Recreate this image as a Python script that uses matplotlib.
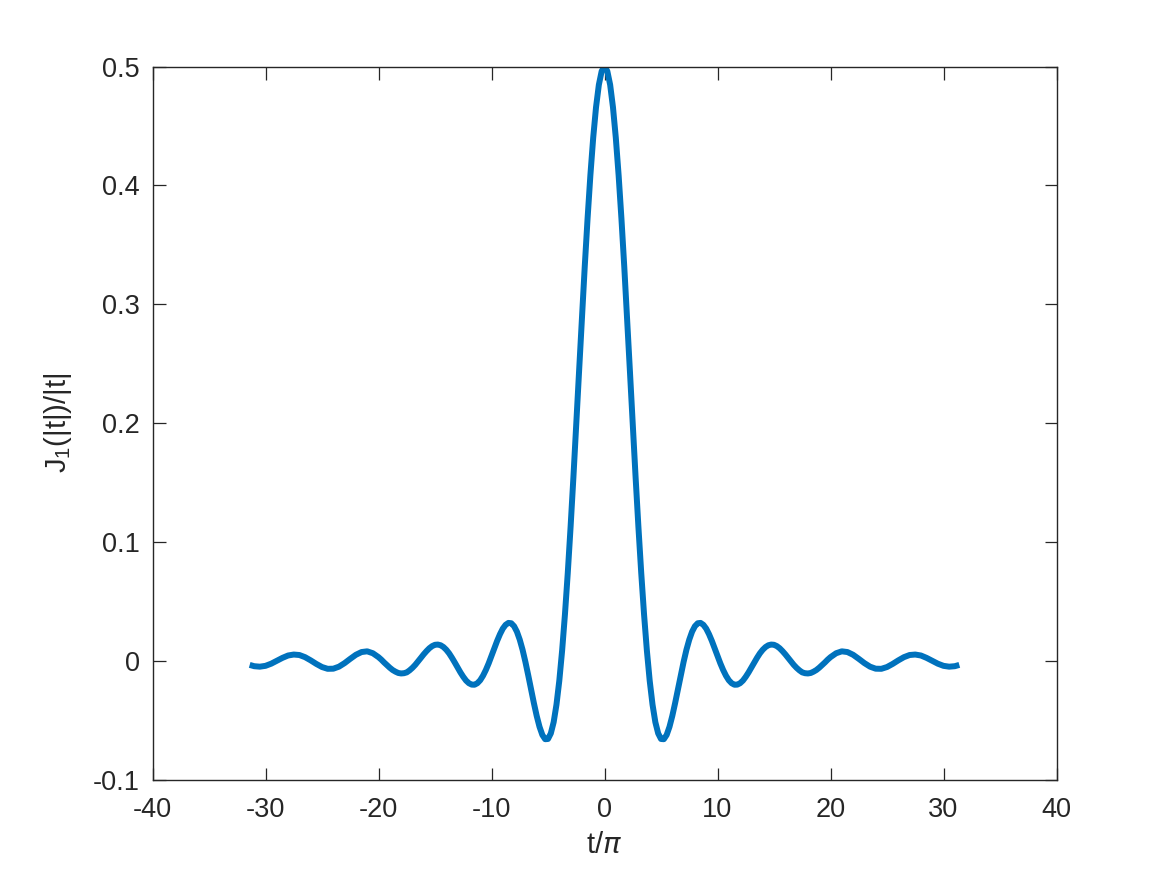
import numpy as np
import matplotlib
matplotlib.use("Agg")
import matplotlib.pyplot as plt

# right half of the curve (t >= 0);
# the curve is symmetric so the left half is the mirror image
t_half = [0.0, 0.25, 0.5, 0.75, 1.0, 1.25, 1.5, 1.75, 2.0, 2.25, 2.5, 2.75,
          3.0, 3.25, 3.5, 3.75, 4.0, 4.25, 4.5, 4.75, 5.0, 5.25, 5.5, 5.75,
          6.0, 6.25, 6.5, 6.75, 7.0, 7.25, 7.5, 7.75, 8.0, 8.25, 8.5, 8.75,
          9.0, 9.25, 9.5, 9.75, 10.0, 10.25, 10.5, 10.75, 11.0, 11.25, 11.5,
          11.75, 12.0, 12.25, 12.5, 12.75, 13.0, 13.25, 13.5, 13.75, 14.0,
          14.25, 14.5, 14.75, 15.0, 15.25, 15.5, 15.75, 16.0, 16.25, 16.5,
          16.75, 17.0, 17.25, 17.5, 17.75, 18.0, 18.25, 18.5, 18.75, 19.0,
          19.25, 19.5, 19.75, 20.0, 20.5, 21.0, 21.5, 22.0, 22.5, 23.0, 23.5,
          24.0, 24.5, 25.0, 25.5, 26.0, 26.5, 27.0, 27.5, 28.0, 28.5, 29.0,
          29.5, 30.0, 30.5, 31.0, 31.4]
y_half = [0.5, 0.4961, 0.4846, 0.4657, 0.4401, 0.4085, 0.3719, 0.3315,
          0.2884, 0.2437, 0.1988, 0.1549, 0.1130, 0.0742, 0.0393, 0.0089,
          -0.0165, -0.0366, -0.0514, -0.0608, -0.0655, -0.0657, -0.0621,
          -0.0553, -0.0461, -0.0353, -0.0237, -0.0119, -0.0007, 0.0095,
          0.0180, 0.0247, 0.0293, 0.0318, 0.0321, 0.0305, 0.0273, 0.0226,
          0.0170, 0.0108, 0.0044, -0.0019, -0.0075, -0.0123, -0.0161,
          -0.0186, -0.0199, -0.0198, -0.0186, -0.0164, -0.0132, -0.0095,
          -0.0054, -0.0012, 0.0028, 0.0065, 0.0095, 0.0118, 0.0133, 0.0139,
          0.0137, 0.0126, 0.0108, 0.0084, 0.0057, 0.0027, -0.0003, -0.0032,
          -0.0057, -0.0078, -0.0095, -0.0102, -0.0104, -0.0100, -0.0089,
          -0.0075, -0.0056, -0.0034, -0.0012, 0.0012, 0.0033, 0.0066, 0.0082,
          0.0076, 0.0053, 0.0019, -0.0017, -0.0047, -0.0064, -0.0065,
          -0.0050, -0.0024, 0.0006, 0.0033, 0.0051, 0.0055, 0.0047, 0.0027,
          0.0002, -0.0022, -0.0040, -0.0047, -0.0043, -0.0032]

x_ticks = [-40, -30, -20, -10, 0, 10, 20, 30, 40]
y_ticks = [-0.1, 0, 0.1, 0.2, 0.3, 0.4, 0.5]
y_ticklabels = ["-0.1", "0", "0.1", "0.2", "0.3", "0.4", "0.5"]

t = np.concatenate([-np.array(t_half[:0:-1]), np.array(t_half)])
y = np.concatenate([np.array(y_half[:0:-1]), np.array(y_half)])

plt.rcParams['font.family'] = ['Liberation Sans', 'DejaVu Sans']
axcol = '#262626'

fig = plt.figure(figsize=(11.67, 8.75), dpi=100)
ax = fig.add_axes([152.5 / 1167, 1 - 780 / 875, 904 / 1167, 713.5 / 875])

ax.plot(t, y, color='#0072BD', linewidth=4.3, solid_capstyle='butt',
        solid_joinstyle='round')

ax.set_xlim(-40, 40)
ax.set_ylim(-0.1, 0.5)
ax.set_xticks(x_ticks)
ax.set_xticklabels([str(v) for v in x_ticks])
ax.set_yticks(y_ticks)
ax.set_yticklabels(y_ticklabels)

ax.tick_params(direction='in', length=9, width=0.9, colors=axcol,
               labelsize=19.5, top=True, right=True)
ax.tick_params(axis='x', pad=12)
ax.tick_params(axis='y', pad=9)
for s in ax.spines.values():
    s.set_color(axcol)
    s.set_linewidth(1.0)

ax.set_xlabel(r'$\mathregular{t/}\pi$', fontsize=21, color=axcol, labelpad=6)
ax.set_ylabel(r'$\mathregular{J_1(|t|)/|t|}$', fontsize=21, color=axcol,
              labelpad=14)

plt.savefig('out.png', dpi=100)
